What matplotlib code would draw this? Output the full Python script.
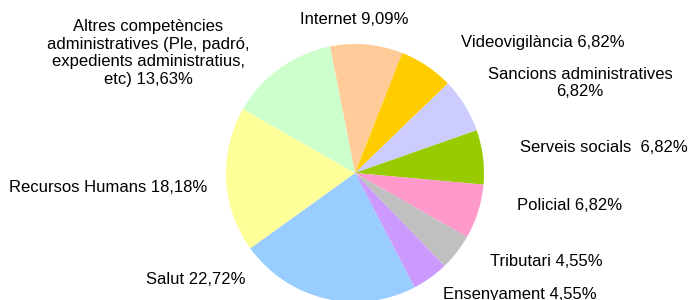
import matplotlib
matplotlib.use("Agg")
import matplotlib.pyplot as plt

plt.rcParams['font.family'] = ['Liberation Sans', 'DejaVu Sans']

# dades del pastís, en ordre horari començant per Internet
categories = ["Internet", "Videovigilància", "Sancions administratives", "Serveis socials",
              "Policial", "Tributari", "Ensenyament", "Salut", "Recursos Humans",
              "Altres competències administratives (Ple, padró, expedients administratius, etc)"]
valors = [9.09, 6.82, 6.82, 6.82, 6.82, 4.55, 4.55, 22.72, 18.18, 13.63]
etiquetes = ["Internet 9,09%", "Videovigilància 6,82%", "Sancions administratives\n6,82%",
             "Serveis socials  6,82%", "Policial 6,82%", "Tributari 4,55%", "Ensenyament 4,55%",
             "Salut 22,72%", "Recursos Humans 18,18%",
             "Altres competències\nadministratives (Ple, padró,\nexpedients administratius,\netc) 13,63%"]
colors = ["#FFCC99", "#FFCC00", "#CCCCFF", "#99CC00", "#FF99CC", "#C0C0C0", "#CC99FF",
          "#99CCFF", "#FFFF99", "#CCFFCC"]

# posicions de les etiquetes (en píxels, origen a dalt a l'esquerra)
pos_etiquetes = [(354, 20), (543, 42), (580, 83), (604, 148), (570, 206), (546, 261),
                 (520, 294), (196, 280), (108, 188), (148, 53)]

fig = plt.figure(figsize=(6.88, 3.0), dpi=100)
ax = fig.add_axes([0, 0, 1, 1])
ax.pie(valors, colors=colors, startangle=101.2, counterclock=False,
       center=(355, 300 - 173), radius=129, frame=True)
ax.set_xlim(0, 688)
ax.set_ylim(0, 300)
ax.set_aspect('equal')
ax.axis('off')

for text, (x, y) in zip(etiquetes, pos_etiquetes):
    ax.text(x, 300 - y, text, ha='center', va='center', fontsize=12,
            linespacing=1.2, color='black')

fig.savefig("out.png", dpi=100)
